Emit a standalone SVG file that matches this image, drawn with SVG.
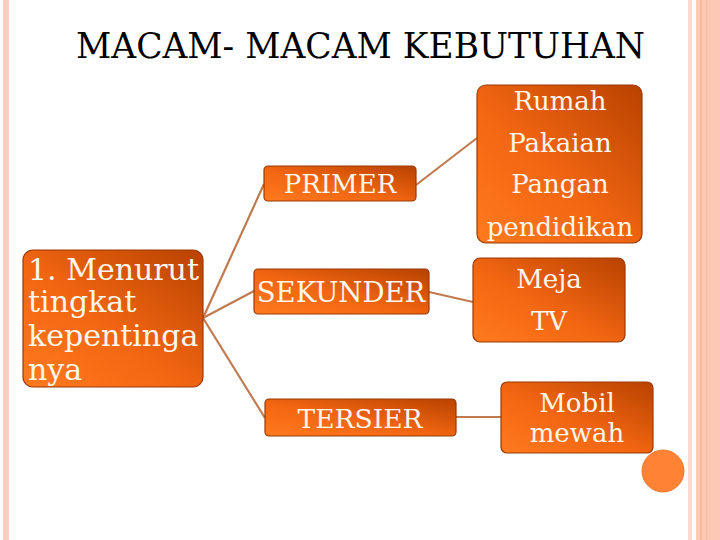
<svg xmlns="http://www.w3.org/2000/svg" width="720" height="540" viewBox="0 0 720 540">
<defs>
<linearGradient id="og" x1="0" y1="1" x2="1" y2="0">
<stop offset="0" stop-color="#FF7A1E"/>
<stop offset="0.45" stop-color="#F26612"/>
<stop offset="1" stop-color="#B84200"/>
</linearGradient>
<style>
.box{fill:url(#og);stroke:#9A3A05;stroke-width:1.2}
.t{font-family:'DejaVu Serif','Liberation Serif',serif;fill:#FFF6EC}
.h{font-family:'DejaVu Serif','Liberation Serif',serif;fill:#000000}
.c{text-anchor:middle}
.ln{stroke:#C07A50;stroke-width:2.2;fill:none}
</style>
</defs>
<rect width="720" height="540" fill="#FFFFFF"/>
<g id="border">
<rect x="3" y="0" width="6" height="540" fill="#FBCFC0"/>
<rect x="688" y="0" width="4" height="540" fill="#FDD9CE"/>
<rect x="696" y="0" width="24" height="540" fill="#FDC9B6"/>
<rect x="700" y="0" width="2" height="540" fill="#F5B898"/>
<rect x="706" y="0" width="1.5" height="540" fill="#F8BFA8"/>
</g>
<text x="76" y="58" class="h" font-size="36" textLength="569" lengthAdjust="spacingAndGlyphs">MACAM- MACAM KEBUTUHAN</text>
<g id="connectors">
<line class="ln" x1="203" y1="318" x2="264" y2="184"/>
<line class="ln" x1="203" y1="318" x2="254" y2="291"/>
<line class="ln" x1="203" y1="318" x2="265" y2="418"/>
<line class="ln" x1="416" y1="185" x2="477" y2="138"/>
<line class="ln" x1="429" y1="292" x2="473" y2="302"/>
<line class="ln" x1="456" y1="417" x2="501" y2="417"/>
</g>
<g id="main">
<rect class="box" x="23" y="250" width="180" height="137" rx="10"/>
<text class="t" font-size="30"><tspan x="28" y="280">1. Menurut</tspan><tspan x="28" y="312">tingkat</tspan><tspan x="28" y="346">kepentinga</tspan><tspan x="28" y="380">nya</tspan></text>
</g>
<g id="primer">
<rect class="box" x="264" y="166" width="152" height="35" rx="4"/>
<text class="t c" x="340" y="193" font-size="26">PRIMER</text>
</g>
<g id="sekunder">
<rect class="box" x="254" y="269" width="175" height="45" rx="4"/>
<text class="t c" x="341" y="302" font-size="27.5">SEKUNDER</text>
</g>
<g id="tersier">
<rect class="box" x="265" y="399" width="191" height="37" rx="4"/>
<text class="t c" x="360" y="428" font-size="26.5">TERSIER</text>
</g>
<g id="primer-items">
<rect class="box" x="477" y="85" width="165" height="158" rx="9"/>
<text class="t c" font-size="26"><tspan x="560" y="110">Rumah</tspan><tspan x="560" y="152">Pakaian</tspan><tspan x="560" y="193">Pangan</tspan><tspan x="560" y="236">pendidikan</tspan></text>
</g>
<g id="sekunder-items">
<rect class="box" x="473" y="258" width="152" height="84" rx="7"/>
<text class="t c" font-size="26"><tspan x="549" y="288">Meja</tspan><tspan x="549" y="330">TV</tspan></text>
</g>
<g id="tersier-items">
<rect class="box" x="501" y="382" width="152" height="71" rx="6"/>
<text class="t c" font-size="26"><tspan x="577" y="412">Mobil</tspan><tspan x="577" y="442">mewah</tspan></text>
</g>
<circle cx="663" cy="471" r="21" fill="#FF8235" stroke="#F07A30" stroke-width="1"/>
</svg>
